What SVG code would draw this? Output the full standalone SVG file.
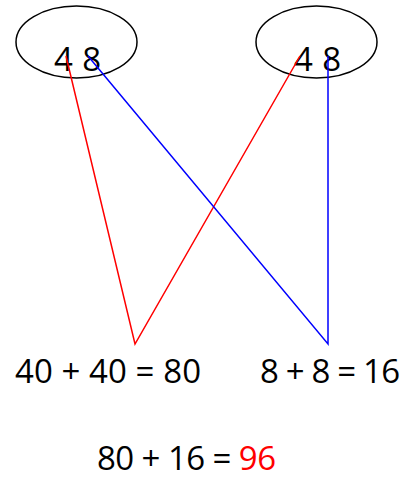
<svg xmlns="http://www.w3.org/2000/svg" width="405" height="477" viewBox="0 0 405 477">
<style>
.t{font-family:"Open Sans","DejaVu Sans",sans-serif;font-size:33px;fill:#000}
.e{fill:none;stroke:#000;stroke-width:1.5}
.r{fill:none;stroke:#f00;stroke-width:1.5}
.b{fill:none;stroke:#00f;stroke-width:1.5}
</style>
<rect width="405" height="477" fill="#fff"/>
<g id="top-left"><ellipse class="e" cx="76.5" cy="42" rx="60.5" ry="36"/><text class="t" x="54" y="71" textLength="47" lengthAdjust="spacing">4 8</text></g>
<g id="top-right"><ellipse class="e" cx="316.5" cy="42" rx="60.5" ry="36"/><text class="t" x="294" y="71" textLength="47" lengthAdjust="spacing">4 8</text></g>
<g id="connectors">
<polyline class="r" points="66,56 135,344 300,56"/>
<polyline class="b" points="88,56 328,344 328,56"/>
</g>
<g id="eq1"><text class="t" x="15" y="383" textLength="186" lengthAdjust="spacing">40 + 40 = 80</text></g>
<g id="eq2"><text class="t" x="260" y="383" textLength="140" lengthAdjust="spacing">8 + 8 = 16</text></g>
<g id="eq3"><text class="t" x="97" y="470" textLength="179" lengthAdjust="spacing">80 + 16 = <tspan fill="#f00">96</tspan></text></g>
</svg>
